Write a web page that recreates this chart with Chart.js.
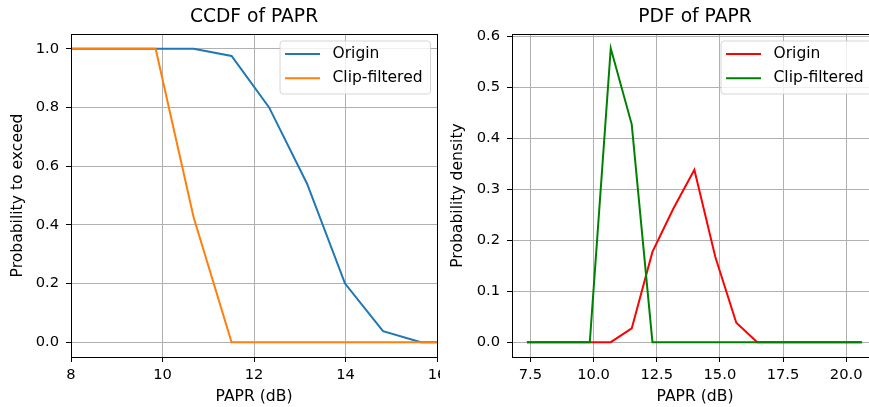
<!DOCTYPE html>
<html>
<head>
<meta charset="utf-8">
<script src="https://cdn.jsdelivr.net/npm/chart.js@4.4.0/dist/chart.umd.min.js"></script>
<style>
  body { margin: 0; background: #fff; }
  #ccdf { position: absolute; left: 0; top: 0; }
  #pdfWrap { position: absolute; left: 440px; top: 0; width: 429px; height: 407px; overflow: hidden; background: #fff; }
</style>
</head>
<body>
<canvas id="ccdf" width="455" height="407"></canvas>
<div id="pdfWrap"><canvas id="pdf" width="450" height="407"></canvas></div>
<script>
// PAPR bin centres (dB)
var papr = [7.36, 8.19, 9.02, 9.85, 10.68, 11.51, 12.33, 13.16, 13.99, 14.82, 15.65, 16.48, 17.31, 18.14, 18.97, 19.80, 20.62];

// complementary CDF
var ccdfOrigin = [1, 1, 1, 1, 1, 0.975, 0.80, 0.54, 0.20, 0.038, 0, 0, 0, 0, 0, 0, 0];
var ccdfClip   = [1, 1, 1, 1, 0.426, 0, 0, 0, 0, 0, 0, 0, 0, 0, 0, 0, 0];

// probability density
var pdfOrigin = [0, 0, 0, 0, 0, 0.027, 0.177, 0.262, 0.338, 0.167, 0.038, 0, 0, 0, 0, 0, 0];
var pdfClip   = [0, 0, 0, 0, 0.576, 0.427, 0, 0, 0, 0, 0, 0, 0, 0, 0, 0, 0];

var ccdfXTicks = [8, 10, 12, 14, 16];
var ccdfYTicks = [0, 0.2, 0.4, 0.6, 0.8, 1.0];
var pdfXTicks = [7.5, 10, 12.5, 15, 17.5, 20];
var pdfYTicks = [0, 0.1, 0.2, 0.3, 0.4, 0.5, 0.6];

Chart.defaults.font.family = '"DejaVu Sans", sans-serif';
Chart.defaults.color = '#000';

function pts(xs, ys) {
  return xs.map(function (x, i) { return { x: x, y: ys[i] }; });
}

// matplotlib-style legend box in the upper right of the plot area
var cornerLegend = {
  id: 'cornerLegend',
  afterDraw: function (chart) {
    var ctx = chart.ctx, area = chart.chartArea, sets = chart.data.datasets;
    ctx.save();
    ctx.font = '15.5px "DejaVu Sans"';
    var textW = 0;
    sets.forEach(function (d) { textW = Math.max(textW, ctx.measureText(d.label).width); });
    var w = 5 + 35 + 12.5 + textW + 8, h = 53;
    var x = area.right - 6.5 - w, y = area.top + 7, r = 3;
    ctx.beginPath();
    ctx.moveTo(x + r, y);
    ctx.arcTo(x + w, y, x + w, y + h, r);
    ctx.arcTo(x + w, y + h, x, y + h, r);
    ctx.arcTo(x, y + h, x, y, r);
    ctx.arcTo(x, y, x + w, y, r);
    ctx.closePath();
    ctx.fillStyle = 'rgba(255,255,255,0.8)';
    ctx.fill();
    ctx.strokeStyle = 'rgba(204,204,204,0.8)';
    ctx.lineWidth = 1;
    ctx.stroke();
    ctx.textBaseline = 'middle';
    ctx.textAlign = 'left';
    sets.forEach(function (d, i) {
      var cy = y + 13 + i * 24.3;
      ctx.beginPath();
      ctx.moveTo(x + 5, cy);
      ctx.lineTo(x + 40, cy);
      ctx.strokeStyle = d.borderColor;
      ctx.lineWidth = 2;
      ctx.stroke();
      ctx.fillStyle = '#000';
      ctx.fillText(d.label, x + 52.5, cy);
    });
    ctx.restore();
  }
};

function fixTicks(list) {
  return function (scale) {
    scale.ticks = list.map(function (v) { return { value: v }; });
  };
}

function line(label, color, data, order) {
  return {
    label: label, data: data, borderColor: color, backgroundColor: color,
    borderWidth: 2, showLine: true, pointRadius: 0, fill: false, order: order
  };
}

function buildChart(id, cfg) {
  var grid = { color: '#b0b0b0', lineWidth: 1, tickLength: 5, tickColor: '#000', tickWidth: 1 };
  var border = { display: true, color: '#000', width: 1, z: 1 };
  return new Chart(document.getElementById(id), {
    type: 'scatter',
    data: { datasets: cfg.datasets },
    options: {
      responsive: false,
      animation: false,
      layout: { padding: 0, autoPadding: false },
      plugins: { legend: { display: false }, tooltip: { enabled: false } },
      events: [],
      scales: {
        x: {
          type: 'linear', position: 'bottom', min: cfg.xMin, max: cfg.xMax,
          afterBuildTicks: fixTicks(cfg.xTicks),
          afterFit: function (s) { s.height = 50; },
          ticks: { font: { size: 14.7 }, padding: 4, maxRotation: 0, callback: cfg.xFmt },
          grid: grid, border: border,
          title: { display: true, text: 'PAPR (dB)', font: { size: 15.6 }, padding: { top: 0, bottom: 1 } }
        },
        x2: {
          type: 'linear', axis: 'x', position: 'top', min: cfg.xMin, max: cfg.xMax,
          afterFit: function (s) { s.height = 34; },
          ticks: { display: false }, grid: { display: false }, border: border,
          title: { display: true, text: cfg.title, font: { size: 18.7 }, padding: { top: 5.5, bottom: 0 } }
        },
        y: {
          type: 'linear', position: 'left', min: cfg.yMin, max: cfg.yMax,
          afterBuildTicks: fixTicks(cfg.yTicks),
          afterFit: function (s) { s.width = cfg.yWidth; },
          ticks: { font: { size: 14.7 }, padding: 7, callback: function (v) { return v.toFixed(1); } },
          grid: grid, border: border,
          title: { display: true, text: cfg.yTitle, font: { size: 15.6 }, padding: { top: 9, bottom: 0 } }
        },
        y2: {
          type: 'linear', axis: 'y', position: 'right', min: cfg.yMin, max: cfg.yMax,
          afterFit: function (s) { s.width = cfg.rightWidth; },
          ticks: { display: false }, grid: { display: false }, border: border
        }
      }
    },
    plugins: [cornerLegend]
  });
}

buildChart('ccdf', {
  title: 'CCDF of PAPR',
  yTitle: 'Probability to exceed',
  xMin: 8, xMax: 16, yMin: -0.05, yMax: 1.05,
  xTicks: ccdfXTicks, yTicks: ccdfYTicks,
  xFmt: function (v) { return String(v); },
  yWidth: 71, rightWidth: 18,
  datasets: [
    line('Origin', '#1f77b4', pts(papr, ccdfOrigin), 1),
    line('Clip-filtered', '#ff7f0e', pts(papr, ccdfClip), 0)
  ]
});

buildChart('pdf', {
  title: 'PDF of PAPR',
  yTitle: 'Probability density',
  xMin: 6.77, xMax: 21.26, yMin: -0.029, yMax: 0.604,
  xTicks: pdfXTicks, yTicks: pdfYTicks,
  xFmt: function (v) { return v.toFixed(1); },
  yWidth: 72, rightWidth: 12,
  datasets: [
    line('Origin', '#ff0000', pts(papr, pdfOrigin), 1),
    line('Clip-filtered', '#008000', pts(papr, pdfClip), 0)
  ]
});
</script>
</body>
</html>
